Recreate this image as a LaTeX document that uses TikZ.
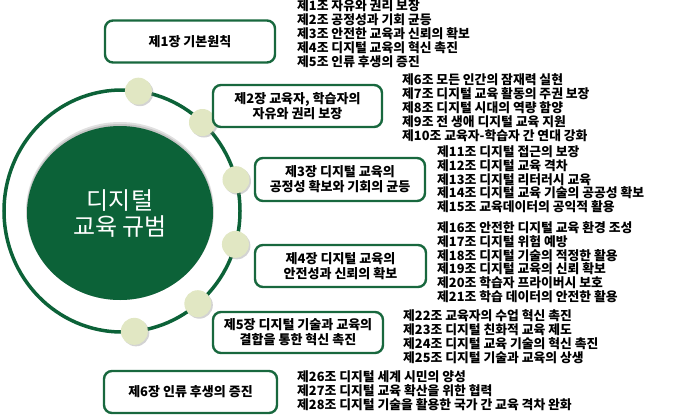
\documentclass[tikz,border=0pt]{standalone}
\usepackage{fontspec}
\setmainfont{Noto Sans CJK KR}
\usetikzlibrary{shadows}
\definecolor{dgreen}{RGB}{12,98,56}
\definecolor{bgreen}{RGB}{24,104,62}
\definecolor{dotfill}{RGB}{225,231,195}
\tikzset{
  chapbox/.style={draw=bgreen, line width=2.4pt, rounded corners=8pt, fill=white,
    minimum width=170pt, minimum height=42pt, align=center, inner sep=0pt,
    font=\fontsize{13}{15}\selectfont\bfseries},
  art/.style={anchor=base west, inner sep=0pt, font=\fontsize{12.8}{14}\selectfont\bfseries},
  dot/.style={circle, fill=dotfill, minimum size=27pt, inner sep=0pt,
    drop shadow={shadow xshift=1.5pt, shadow yshift=-1.5pt, opacity=0.35}},
}
\begin{document}
\begin{tikzpicture}[x=1pt,y=-1pt]
\useasboundingbox (0,0) rectangle (700,415);
% ring
\draw[dgreen, line width=3.5pt] (122,211) ellipse [x radius=118pt, y radius=121pt];
% inner circle with soft top shadow
\fill[black, opacity=0.12] (120,211) ellipse [x radius=94pt, y radius=89pt];
\fill[black, opacity=0.12] (120,212) ellipse [x radius=93.5pt, y radius=88pt];
\fill[dgreen] (120,213) ellipse [x radius=93pt, y radius=87pt];
\node[text=white, align=center, font=\fontsize{24}{26}\selectfont] (coretext) at (120,214) {디지털\\교육 규범};
% dots
\foreach \a [count=\i] in {82,47,15,-16,-50,-84}
  \node[dot] (d\i) at ({122+118*cos(\a)},{211-121*sin(\a)}) {};
% chapter boxes
\node[chapbox] (c1) at (190,41.5) {제1장 기본원칙};
\node[chapbox, minimum width=169pt] (c2) at (297.5,106) {제2장 교육자, 학습자의\\자유와 권리 보장};
\node[chapbox, minimum height=43pt] (c3) at (340,179.5) {제3장 디지털 교육의\\공정성 확보와 기회의 균등};
\node[chapbox, minimum width=171pt] (c4) at (340.5,266) {제4장 디지털 교육의\\안전성과 신뢰의 확보};
\node[chapbox, minimum height=41pt] (c5) at (298,332.5) {제5장 디지털 기술과 교육의\\결합을 통한 혁신 촉진};
\node[chapbox, minimum width=173pt] (c6) at (190.5,392) {제6장 인류 후생의 증진};
% article lists
\foreach \t [count=\i] in {제1조 자유와 권리 보장, 제2조 공정성과 기회 균등, 제3조 안전한 교육과 신뢰의 확보, 제4조 디지털 교육의 혁신 촉진, 제5조 인류 후생의 증진}
  \node[art] (a1-\i) at (297,{10+(\i-1)*14}) {\t};
\foreach \t [count=\i] in {제6조 모든 인간의 잠재력 실현, 제7조 디지털 교육 활동의 주권 보장, 제8조 디지털 시대의 역량 함양, 제9조 전 생애 디지털 교육 지원, 제10조 교육자-학습자 간 연대 강화}
  \node[art] (a2-\i) at (402,{84+(\i-1)*14}) {\t};
\foreach \t [count=\i] in {제11조 디지털 접근의 보장, 제12조 디지털 교육 격차, 제13조 디지털 리터러시 교육, 제14조 디지털 교육 기술의 공공성 확보, 제15조 교육데이터의 공익적 활용}
  \node[art] (a3-\i) at (437,{156.5+(\i-1)*13.8}) {\t};
\foreach \t [count=\i] in {제16조 안전한 디지털 교육 환경 조성, 제17조 디지털 위험 예방, 제18조 디지털 기술의 적정한 활용, 제19조 디지털 교육의 신뢰 확보, 제20조 학습자 프라이버시 보호, 제21조 학습 데이터의 안전한 활용}
  \node[art] (a4-\i) at (437,{232.5+(\i-1)*13.8}) {\t};
\foreach \t [count=\i] in {제22조 교육자의 수업 혁신 촉진, 제23조 디지털 친화적 교육 제도, 제24조 디지털 교육 기술의 혁신 촉진, 제25조 디지털 기술과 교육의 상생}
  \node[art] (a5-\i) at (403,{320.5+(\i-1)*14}) {\t};
\foreach \t [count=\i] in {제26조 디지털 세계 시민의 양성, 제27조 디지털 교육 확산을 위한 협력, 제28조 디지털 기술을 활용한 국가 간 교육 격차 완화}
  \node[art] (a6-\i) at (297,{381.5+(\i-1)*14}) {\t};
\end{tikzpicture}
\end{document}
